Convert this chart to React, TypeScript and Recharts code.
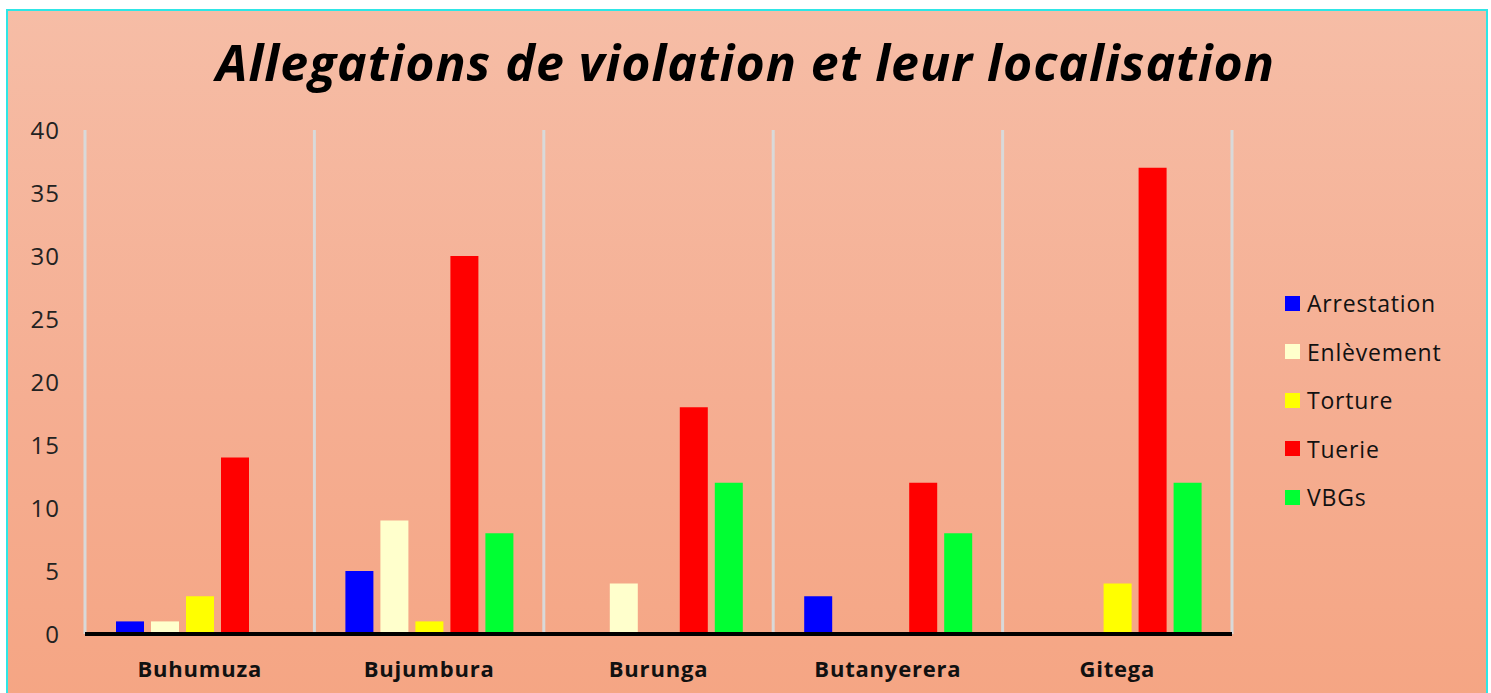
import {
  BarChart,
  Bar,
  XAxis,
  YAxis,
  CartesianGrid,
} from "recharts";

// localites (categories)
const provinces = ["Buhumuza", "Bujumbura", "Burunga", "Butanyerera", "Gitega"];

// valeurs
const arrestation = [1, 5, 0, 3, 0];
const enlevement = [1, 9, 4, 0, 0];
const torture = [3, 1, 0, 0, 4];
const tuerie = [14, 30, 18, 12, 37];
const vbgs = [0, 8, 12, 8, 12];

const yTicks = [0, 5, 10, 15, 20, 25, 30, 35, 40];

const series = [
  { key: "Arrestation", values: arrestation, color: "#0000FF" },
  { key: "Enlèvement", values: enlevement, color: "#FFFFCC" },
  { key: "Torture", values: torture, color: "#FFFF00" },
  { key: "Tuerie", values: tuerie, color: "#FF0000" },
  { key: "VBGs", values: vbgs, color: "#00FF33" },
];

const data = provinces.map((name, i) => {
  const row: any = { name };
  series.forEach((s) => {
    row[s.key] = s.values[i];
  });
  return row;
});

const FONT = "'Open Sans', 'Noto Sans', sans-serif";

function App() {
  return (
    <div style={{ position: "absolute", left: 0, top: 0, width: 1491, height: 693, overflow: "hidden", background: "#fff" }}>
      <div
        style={{
          position: "absolute",
          left: 6,
          top: 9,
          width: 1478,
          height: 700,
          border: "2px solid #2EE6E6",
          background: "linear-gradient(180deg, #F6BDA6 0%, #F5AE92 55%, #F5A583 100%)",
        }}
      />
      <div
        style={{
          position: "absolute",
          left: 0,
          top: 28,
          width: 1491,
          textAlign: "center",
          fontFamily: FONT,
          fontStyle: "italic",
          fontWeight: 700,
          fontSize: 50,
          letterSpacing: 1,
          color: "#000",
        }}
      >
        Allegations de violation et leur localisation
      </div>
      <div style={{ position: "absolute", left: 0, top: 0 }}>
        <BarChart
          width={1491}
          height={693}
          data={data}
          margin={{ top: 130, right: 259, bottom: 0, left: 0 }}
          barSize={28}
          barGap={7}
        >
          <CartesianGrid
            horizontal={false}
            stroke="#D9D9D9"
            strokeWidth={3}
            verticalCoordinatesGenerator={({ offset }: any) =>
              provinces.concat([""]).map((_, i) => offset.left + (i * offset.width) / provinces.length)
            }
          />
          <XAxis
            dataKey="name"
            height={59}
            axisLine={{ stroke: "#000", strokeWidth: 4 }}
            tickLine={false}
            tickMargin={21}
            tick={{ fontFamily: FONT, fontSize: 22, fontWeight: 700, fill: "#111", letterSpacing: 0.8 }}
            interval={0}
          />
          <YAxis
            width={85}
            domain={[0, 40]}
            ticks={yTicks}
            axisLine={false}
            tickLine={false}
            tickSize={0}
            tickMargin={25}
            tick={{ fontFamily: FONT, fontSize: 24, fill: "#222", letterSpacing: 1 }}
          />
          {series.map((s) => (
            <Bar key={s.key} dataKey={s.key} fill={s.color} isAnimationActive={false} />
          ))}
        </BarChart>
      </div>
      <div style={{ position: "absolute", left: 1285, top: 279, fontFamily: FONT, fontSize: 23, letterSpacing: 0.8, color: "#111" }}>
        {series.map((s) => (
          <div key={s.key} style={{ display: "flex", alignItems: "center", height: 48.5 }}>
            <span style={{ display: "inline-block", width: 15, height: 15, background: s.color, marginRight: 7 }} />
            <span>{s.key}</span>
          </div>
        ))}
      </div>
    </div>
  );
}

export default App;
